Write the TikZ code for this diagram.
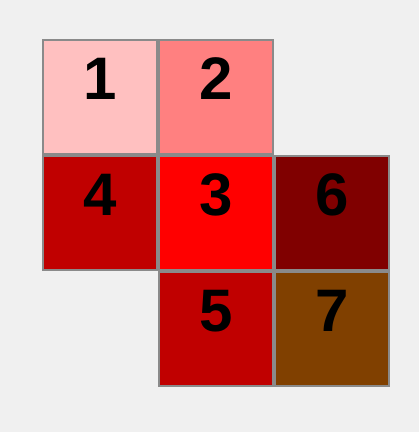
\documentclass[tikz,border=0pt]{standalone}
\usepackage{fontspec}
\setsansfont{Liberation Sans}
\usetikzlibrary{positioning}

\definecolor{bgpanel}{HTML}{F0F0F0}
\definecolor{edgegray}{HTML}{8A8A8A}
\definecolor{shadeone}{HTML}{FFC0C0}
\definecolor{shadetwo}{HTML}{FF8080}
\definecolor{shadethree}{HTML}{FF0000}
\definecolor{shadefour}{HTML}{C00000}
\definecolor{shadesix}{HTML}{800000}
\definecolor{shadeseven}{HTML}{804000}

\begin{document}
\begin{tikzpicture}[
    x=1pt, y=-1pt,
    node distance=2pt and 2pt,
    font=\sffamily\bfseries\fontsize{60}{60}\selectfont,
    cell/.style={rectangle, draw=edgegray, line width=2pt, outer sep=0pt, inner sep=0pt,
        minimum width=114pt, minimum height=114pt, text height=59.5pt, text depth=54.5pt}
]

% background panel
\fill[bgpanel] (0,0) rectangle (419,432);
\useasboundingbox (0,0) rectangle (419,432);

% ---- Row 1 ----
\node[cell, fill=shadeone] (c1) at (100,97) {1};
\node[cell, fill=shadetwo, right=of c1] (c2) {2};

% ---- Row 2 ----
\node[cell, fill=shadefour, below=of c1] (c4) {4};
\node[cell, fill=shadethree, right=of c4] (c3) {3};
\node[cell, fill=shadesix, right=of c3] (c6) {6};

% ---- Row 3 ----
\node[cell, fill=shadefour, below=of c3] (c5) {5};
\node[cell, fill=shadeseven, right=of c5] (c7) {7};

\end{tikzpicture}
\end{document}
